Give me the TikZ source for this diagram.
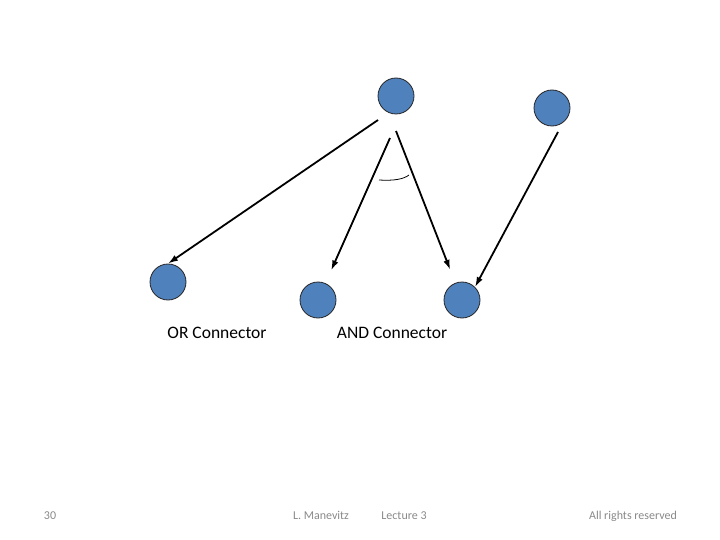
\documentclass[tikz,border=0pt]{standalone}
\usepackage{fontspec}
\setmainfont{Carlito}
\usetikzlibrary{arrows.meta}
\definecolor{ballblue}{RGB}{79,129,189}
\definecolor{footgray}{RGB}{137,137,137}

\begin{document}
\begin{tikzpicture}[x=1pt, y=-1pt,
  dot/.style={draw=black!85, line width=0.8pt, circle, fill=ballblue, minimum size=36pt, inner sep=0pt},
  arr/.style={-{Latex[length=10pt,width=6.5pt]}, line width=1.8pt},
  lbl/.style={font=\fontsize{17.5}{20}\selectfont, anchor=base},
  foot/.style={font=\fontsize{12}{14}\selectfont, text=footgray, anchor=base}]
\useasboundingbox (0,0) rectangle (720,540);
\node[dot] (top) at (396,96) {};
\node[dot] (rtop) at (552,108) {};
\node[dot] (bl) at (168,282) {};
\node[dot] (bm) at (318,300) {};
\node[dot] (br) at (462,300) {};
\coordinate (orstart) at (378,120);
\coordinate (andlstart) at (390,138);
\coordinate (andrstart) at (396,131);
\coordinate (rstart) at (558,132);
\draw[arr] (orstart) -- (bl.north);
\draw[arr, shorten >=14pt] (andlstart) -- (bm);
\draw[arr, shorten >=14pt] (andrstart) -- (br);
\draw[arr] (rstart) -- (br.north east);
% and-arc
\draw[line width=0.8pt] (379,180) .. controls (394,181) and (404,179) .. (409,175);
\node[lbl] (orlbl) at (217,338) {OR Connector};
\node[lbl] (andlbl) at (392,338) {AND Connector};
\node[foot] (page) at (50,519) {30};
\node[foot] (author) at (321,519) {L. Manevitz};
\node[foot] (lecture) at (404,519) {Lecture 3};
\node[foot] (rights) at (633,519) {All rights reserved};
\end{tikzpicture}
\end{document}
